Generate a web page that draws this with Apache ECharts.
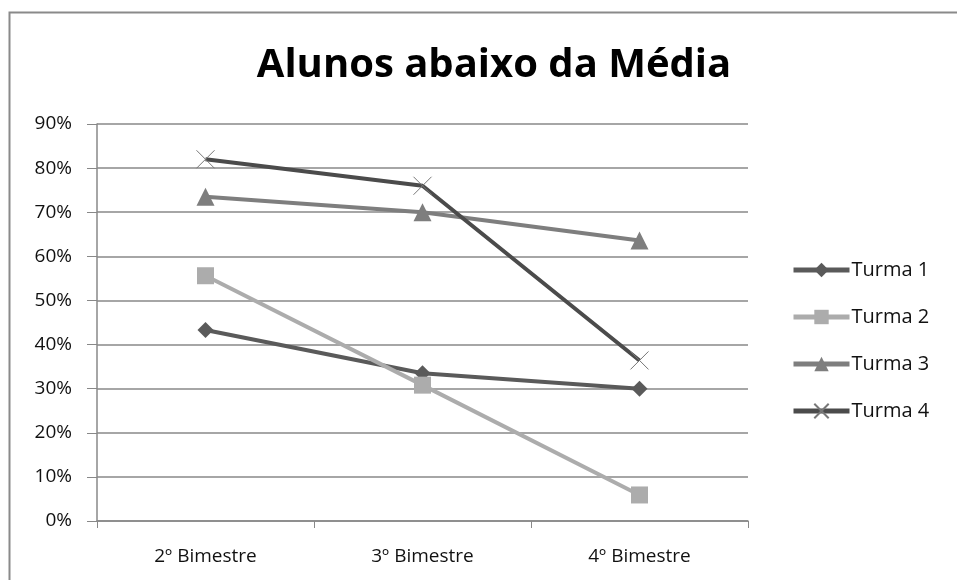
<!DOCTYPE html>
<html><head><meta charset="utf-8">
<script src="https://cdn.jsdelivr.net/npm/echarts@6/dist/echarts.min.js"></script>
<style>html,body{margin:0;padding:0;background:#fff}#c{width:957px;height:580px}</style>
</head><body><div id="c"></div>
<script>
const categories = ['2º Bimestre', '3º Bimestre', '4º Bimestre'];
const turma1 = [43.3, 33.5, 30.0];
const turma2 = [55.6, 30.8, 5.9];
const turma3 = [73.5, 70.0, 63.6];
const turma4 = [82.0, 76.0, 36.4];
const seriesNames = ['Turma 1', 'Turma 2', 'Turma 3', 'Turma 4'];
const yTicks = [0, 10, 20, 30, 40, 50, 60, 70, 80, 90];

const chart = echarts.init(document.getElementById('c'), null, {renderer: 'canvas'});
const font = '"Open Sans", Lato, sans-serif';
function mk(name, data, color, symbol, size, extra) {
  return Object.assign({
    name, type: 'line', data, symbol, symbolSize: size,
    lineStyle: {color, width: 4},
    itemStyle: {color},
    emphasis: {disabled: true}
  }, extra || {});
}
chart.setOption({
  animation: false,
  backgroundColor: '#fff',
  title: {
    text: 'Alunos abaixo da Média', left: 489, top: 41, textAlign: 'center',
    textStyle: {fontFamily: font, fontWeight: 'bold', fontSize: 40, color: '#000'}
  },
  graphic: [{type: 'rect', shape: {x: 9.5, y: 12.5, width: 1000, height: 700},
    style: {fill: 'none', stroke: '#8a8a8a', lineWidth: 2}, silent: true}],
  legend: {
    orient: 'vertical', left: 786, top: 255, itemGap: 27, itemWidth: 56, itemHeight: 18,
    data: seriesNames,
    lineStyle: {width: 5},
    textStyle: {fontFamily: font, fontSize: 20, color: '#111', padding: [0, 0, 0, -3]}
  },
  grid: {left: 97, right: 209, top: 124, bottom: 59},
  xAxis: {
    type: 'category', data: categories, boundaryGap: true,
    axisLine: {lineStyle: {color: '#888', width: 1.5}},
    axisTick: {show: true, length: 7, lineStyle: {color: '#888'}},
    axisLabel: {fontFamily: font, fontSize: 19, color: '#111', margin: 26}
  },
  yAxis: {
    type: 'value', min: 0, max: 90, interval: 10,
    axisLine: {show: true, lineStyle: {color: '#888', width: 1.5}},
    axisTick: {show: true, length: 10, lineStyle: {color: '#888'}},
    splitLine: {lineStyle: {color: '#888', width: 1.5}},
    axisLabel: {fontFamily: font, fontSize: 19, color: '#111', margin: 25,
      formatter: v => yTicks.includes(v) ? v + '%' : ''}
  },
  series: [
    mk('Turma 1', turma1, '#5a5a5a', 'diamond', 16),
    mk('Turma 2', turma2, '#acacac', 'rect', 17),
    mk('Turma 3', turma3, '#7e7e7e', 'triangle', 18),
    mk('Turma 4', turma4, '#4b4b4b', 'path://M0,0L1,1M1,0L0,1', 18, {
      itemStyle: {color: 'transparent', borderColor: '#777', borderWidth: 1}
    })
  ]
});
</script></body></html>
